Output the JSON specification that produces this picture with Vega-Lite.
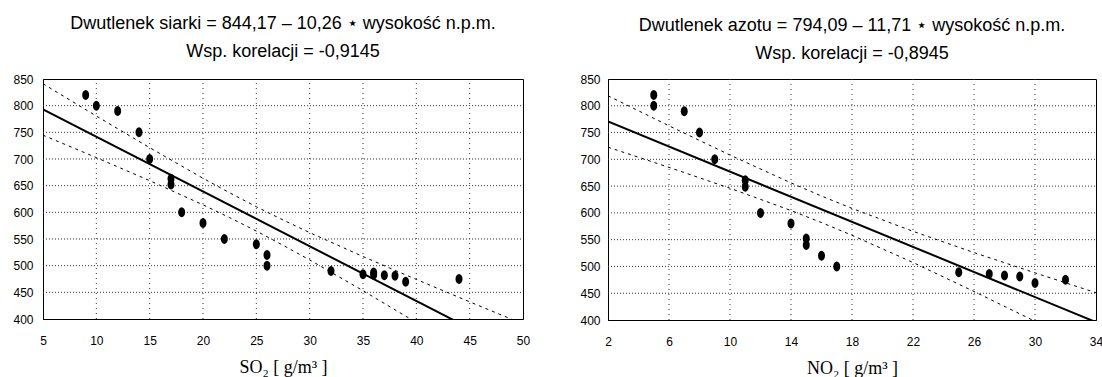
{
  "$schema": "https://vega.github.io/schema/vega-lite/v6.json",
  "background": "white",
  "padding": {"left": 12, "top": 14, "right": 0, "bottom": 0},
  "spacing": 48,
  "config": {
    "font": "Liberation Sans",
    "view": {"stroke": "black", "strokeWidth": 1},
    "axis": {
      "labelFont": "Liberation Sans", "labelFontSize": 12, "labelColor": "black",
      "domainColor": "black", "ticks": false, "grid": false, "labelOverlap": false, "labelFlush": false,
      "titleFont": "Liberation Serif", "titleFontSize": 18, "titleFontWeight": "normal", "titleColor": "black"
    },
    "axisY": {"tickCount": 10},
    "title": {"font": "Liberation Sans", "fontSize": 18, "fontWeight": "normal", "color": "black", "lineHeight": 28, "anchor": "middle"}
  },
  "datasets": {
    "so2_pts": [
      {"so2": 9, "alt": 820}, {"so2": 10, "alt": 800}, {"so2": 12, "alt": 790}, {"so2": 14, "alt": 750},
      {"so2": 15, "alt": 700}, {"so2": 17, "alt": 663}, {"so2": 17, "alt": 652}, {"so2": 18, "alt": 600},
      {"so2": 20, "alt": 580}, {"so2": 22, "alt": 550}, {"so2": 25, "alt": 540}, {"so2": 26, "alt": 520},
      {"so2": 26, "alt": 500}, {"so2": 32, "alt": 490}, {"so2": 35, "alt": 484}, {"so2": 36, "alt": 487},
      {"so2": 36, "alt": 483}, {"so2": 37, "alt": 482}, {"so2": 38, "alt": 481}, {"so2": 39, "alt": 470},
      {"so2": 44, "alt": 475}
    ],
    "so2_lines": [
      {"so2": 5, "alt": 792.9, "series": "reg"}, {"so2": 50, "alt": 331.2, "series": "reg"},
      {"so2": 5, "alt": 841.1, "series": "upper"}, {"so2": 10, "alt": 780.6, "series": "upper"},
      {"so2": 15, "alt": 721.2, "series": "upper"}, {"so2": 20, "alt": 663.9, "series": "upper"},
      {"so2": 22.5, "alt": 636.6, "series": "upper"}, {"so2": 25, "alt": 610.5, "series": "upper"},
      {"so2": 27.5, "alt": 585.7, "series": "upper"}, {"so2": 30, "alt": 562.0, "series": "upper"},
      {"so2": 35, "alt": 517.1, "series": "upper"}, {"so2": 40, "alt": 474.2, "series": "upper"},
      {"so2": 45, "alt": 432.2, "series": "upper"}, {"so2": 50, "alt": 390.7, "series": "upper"},
      {"so2": 5, "alt": 744.7, "series": "lower"}, {"so2": 10, "alt": 702.6, "series": "lower"},
      {"so2": 15, "alt": 659.4, "series": "lower"}, {"so2": 20, "alt": 614.1, "series": "lower"},
      {"so2": 22.5, "alt": 590.0, "series": "lower"}, {"so2": 25, "alt": 564.9, "series": "lower"},
      {"so2": 27.5, "alt": 538.3, "series": "lower"}, {"so2": 30, "alt": 510.8, "series": "lower"},
      {"so2": 35, "alt": 453.1, "series": "lower"}, {"so2": 40, "alt": 393.4, "series": "lower"},
      {"so2": 45, "alt": 332.8, "series": "lower"}, {"so2": 50, "alt": 271.7, "series": "lower"}
    ],
    "so2_vgrid": [
      {"so2": 10, "alt": 400, "g": "v10"}, {"so2": 10, "alt": 850, "g": "v10"},
      {"so2": 15, "alt": 400, "g": "v15"}, {"so2": 15, "alt": 850, "g": "v15"},
      {"so2": 20, "alt": 400, "g": "v20"}, {"so2": 20, "alt": 850, "g": "v20"},
      {"so2": 25, "alt": 400, "g": "v25"}, {"so2": 25, "alt": 850, "g": "v25"},
      {"so2": 30, "alt": 400, "g": "v30"}, {"so2": 30, "alt": 850, "g": "v30"},
      {"so2": 35, "alt": 400, "g": "v35"}, {"so2": 35, "alt": 850, "g": "v35"},
      {"so2": 40, "alt": 400, "g": "v40"}, {"so2": 40, "alt": 850, "g": "v40"},
      {"so2": 45, "alt": 400, "g": "v45"}, {"so2": 45, "alt": 850, "g": "v45"}
    ],
    "so2_hgrid": [
      {"so2": 5, "alt": 450, "g": "h450"}, {"so2": 50, "alt": 450, "g": "h450"},
      {"so2": 5, "alt": 500, "g": "h500"}, {"so2": 50, "alt": 500, "g": "h500"},
      {"so2": 5, "alt": 550, "g": "h550"}, {"so2": 50, "alt": 550, "g": "h550"},
      {"so2": 5, "alt": 600, "g": "h600"}, {"so2": 50, "alt": 600, "g": "h600"},
      {"so2": 5, "alt": 650, "g": "h650"}, {"so2": 50, "alt": 650, "g": "h650"},
      {"so2": 5, "alt": 700, "g": "h700"}, {"so2": 50, "alt": 700, "g": "h700"},
      {"so2": 5, "alt": 750, "g": "h750"}, {"so2": 50, "alt": 750, "g": "h750"},
      {"so2": 5, "alt": 800, "g": "h800"}, {"so2": 50, "alt": 800, "g": "h800"}
    ],
    "no2_vgrid": [
      {"no2": 6, "alt": 400, "g": "v6"}, {"no2": 6, "alt": 850, "g": "v6"},
      {"no2": 10, "alt": 400, "g": "v10"}, {"no2": 10, "alt": 850, "g": "v10"},
      {"no2": 14, "alt": 400, "g": "v14"}, {"no2": 14, "alt": 850, "g": "v14"},
      {"no2": 18, "alt": 400, "g": "v18"}, {"no2": 18, "alt": 850, "g": "v18"},
      {"no2": 22, "alt": 400, "g": "v22"}, {"no2": 22, "alt": 850, "g": "v22"},
      {"no2": 26, "alt": 400, "g": "v26"}, {"no2": 26, "alt": 850, "g": "v26"},
      {"no2": 30, "alt": 400, "g": "v30"}, {"no2": 30, "alt": 850, "g": "v30"}
    ],
    "no2_hgrid": [
      {"no2": 2, "alt": 450, "g": "h450"}, {"no2": 34, "alt": 450, "g": "h450"},
      {"no2": 2, "alt": 500, "g": "h500"}, {"no2": 34, "alt": 500, "g": "h500"},
      {"no2": 2, "alt": 550, "g": "h550"}, {"no2": 34, "alt": 550, "g": "h550"},
      {"no2": 2, "alt": 600, "g": "h600"}, {"no2": 34, "alt": 600, "g": "h600"},
      {"no2": 2, "alt": 650, "g": "h650"}, {"no2": 34, "alt": 650, "g": "h650"},
      {"no2": 2, "alt": 700, "g": "h700"}, {"no2": 34, "alt": 700, "g": "h700"},
      {"no2": 2, "alt": 750, "g": "h750"}, {"no2": 34, "alt": 750, "g": "h750"},
      {"no2": 2, "alt": 800, "g": "h800"}, {"no2": 34, "alt": 800, "g": "h800"}
    ],
    "no2_pts": [
      {"no2": 5, "alt": 820}, {"no2": 5, "alt": 800}, {"no2": 7, "alt": 790}, {"no2": 8, "alt": 750},
      {"no2": 9, "alt": 700}, {"no2": 11, "alt": 661}, {"no2": 11, "alt": 649}, {"no2": 12, "alt": 600},
      {"no2": 14, "alt": 580}, {"no2": 15, "alt": 552}, {"no2": 15, "alt": 540}, {"no2": 16, "alt": 520},
      {"no2": 17, "alt": 500}, {"no2": 25, "alt": 489}, {"no2": 27, "alt": 486}, {"no2": 28, "alt": 483},
      {"no2": 29, "alt": 481}, {"no2": 30, "alt": 469}, {"no2": 32, "alt": 475}
    ],
    "no2_lines": [
      {"no2": 2, "alt": 770.7, "series": "reg"}, {"no2": 34, "alt": 396.0, "series": "reg"},
      {"no2": 2, "alt": 818.7, "series": "upper"}, {"no2": 6, "alt": 762.6, "series": "upper"},
      {"no2": 10, "alt": 708.0, "series": "upper"}, {"no2": 14, "alt": 656.0, "series": "upper"},
      {"no2": 16, "alt": 631.5, "series": "upper"}, {"no2": 18, "alt": 608.4, "series": "upper"},
      {"no2": 22, "alt": 565.6, "series": "upper"}, {"no2": 26, "alt": 525.9, "series": "upper"},
      {"no2": 30, "alt": 488.0, "series": "upper"}, {"no2": 34, "alt": 450.9, "series": "upper"},
      {"no2": 2, "alt": 722.7, "series": "lower"}, {"no2": 6, "alt": 685.0, "series": "lower"},
      {"no2": 10, "alt": 646.0, "series": "lower"}, {"no2": 14, "alt": 604.4, "series": "lower"},
      {"no2": 16, "alt": 581.9, "series": "lower"}, {"no2": 18, "alt": 558.2, "series": "lower"},
      {"no2": 22, "alt": 507.4, "series": "lower"}, {"no2": 26, "alt": 453.3, "series": "lower"},
      {"no2": 30, "alt": 397.6, "series": "lower"}, {"no2": 34, "alt": 341.1, "series": "lower"}
    ]
  },
  "hconcat": [
    {
      "width": 480,
      "height": 240,
      "title": {"text": ["Dwutlenek siarki = 844,17 – 10,26 ⋆ wysokość n.p.m.", "Wsp. korelacji = -0,9145"], "offset": 12},
      "layer": [
        {
          "data": {"name": "so2_vgrid"},
          "mark": {"type": "line", "color": "#333", "strokeWidth": 1, "strokeDash": [1, 4]},
          "encoding": {
            "x": {"field": "so2", "type": "quantitative", "scale": {"domain": [5, 50], "nice": false},
                  "axis": {"values": [5, 10, 15, 20, 25, 30, 35, 40, 45, 50], "title": "SO₂  [   g/m³ ]     ", "labelPadding": 16, "titlePadding": 12}},
            "y": {"field": "alt", "type": "quantitative", "scale": {"domain": [400, 850], "nice": false},
                  "axis": {"values": [400, 450, 500, 550, 600, 650, 700, 750, 800, 850], "title": null, "labelPadding": 10}},
            "detail": {"field": "g"}
          }
        },
        {
          "data": {"name": "so2_hgrid"},
          "mark": {"type": "line", "color": "#333", "strokeWidth": 1, "strokeDash": [1, 2]},
          "encoding": {
            "x": {"field": "so2", "type": "quantitative", "scale": {"domain": [5, 50], "nice": false},
                  "axis": {"values": [5, 10, 15, 20, 25, 30, 35, 40, 45, 50], "title": "SO₂  [   g/m³ ]     ", "labelPadding": 16, "titlePadding": 12}},
            "y": {"field": "alt", "type": "quantitative", "scale": {"domain": [400, 850], "nice": false},
                  "axis": {"values": [400, 450, 500, 550, 600, 650, 700, 750, 800, 850], "title": null, "labelPadding": 10}},
            "detail": {"field": "g"}
          }
        },
        {
          "data": {"name": "so2_lines"},
          "transform": [{"filter": "datum.series !== 'reg'"}],
          "mark": {"type": "line", "color": "black", "strokeWidth": 1, "strokeDash": [3, 4], "clip": true},
          "encoding": {
            "x": {"field": "so2", "type": "quantitative", "scale": {"domain": [5, 50], "nice": false},
                  "axis": {"values": [5, 10, 15, 20, 25, 30, 35, 40, 45, 50], "title": "SO₂  [   g/m³ ]     ", "labelPadding": 16, "titlePadding": 12}},
            "y": {"field": "alt", "type": "quantitative", "scale": {"domain": [400, 850], "nice": false},
                  "axis": {"values": [400, 450, 500, 550, 600, 650, 700, 750, 800, 850], "title": null, "labelPadding": 10}},
            "detail": {"field": "series"}
          }
        },
        {
          "data": {"name": "so2_lines"},
          "transform": [{"filter": "datum.series === 'reg'"}],
          "mark": {"type": "line", "color": "black", "strokeWidth": 2, "clip": true},
          "encoding": {
            "x": {"field": "so2", "type": "quantitative", "scale": {"domain": [5, 50], "nice": false},
                  "axis": {"values": [5, 10, 15, 20, 25, 30, 35, 40, 45, 50], "title": "SO₂  [   g/m³ ]     ", "labelPadding": 16, "titlePadding": 12}},
            "y": {"field": "alt", "type": "quantitative", "scale": {"domain": [400, 850], "nice": false},
                  "axis": {"values": [400, 450, 500, 550, 600, 650, 700, 750, 800, 850], "title": null, "labelPadding": 10}}
          }
        },
        {
          "data": {"name": "so2_pts"},
          "mark": {"type": "point", "filled": true, "color": "black", "opacity": 1, "size": 100,
                   "shape": "M-0.7,0A0.7,1 0 1,0 0.7,0A0.7,1 0 1,0 -0.7,0Z"},
          "encoding": {
            "x": {"field": "so2", "type": "quantitative", "scale": {"domain": [5, 50], "nice": false},
                  "axis": {"values": [5, 10, 15, 20, 25, 30, 35, 40, 45, 50], "title": "SO₂  [   g/m³ ]     ", "labelPadding": 16, "titlePadding": 12}},
            "y": {"field": "alt", "type": "quantitative", "scale": {"domain": [400, 850], "nice": false},
                  "axis": {"values": [400, 450, 500, 550, 600, 650, 700, 750, 800, 850], "title": null, "labelPadding": 10}}
          }
        }
      ]
    },
    {
      "width": 488,
      "height": 241,
      "title": {"text": ["Dwutlenek azotu = 794,09 – 11,71 ⋆ wysokość n.p.m.", "Wsp. korelacji =  -0,8945"], "offset": 10},
      "layer": [
        {
          "data": {"name": "no2_vgrid"},
          "mark": {"type": "line", "color": "#333", "strokeWidth": 1, "strokeDash": [1, 4]},
          "encoding": {
            "x": {"field": "no2", "type": "quantitative", "scale": {"domain": [2, 34], "nice": false},
                  "axis": {"values": [2, 6, 10, 14, 18, 22, 26, 30, 34], "title": "NO₂  [   g/m³ ]        ", "labelPadding": 16, "titlePadding": 12}},
            "y": {"field": "alt", "type": "quantitative", "scale": {"domain": [400, 850], "nice": false},
                  "axis": {"values": [400, 450, 500, 550, 600, 650, 700, 750, 800, 850], "title": null, "labelPadding": 8}},
            "detail": {"field": "g"}
          }
        },
        {
          "data": {"name": "no2_hgrid"},
          "mark": {"type": "line", "color": "#333", "strokeWidth": 1, "strokeDash": [1, 2]},
          "encoding": {
            "x": {"field": "no2", "type": "quantitative", "scale": {"domain": [2, 34], "nice": false},
                  "axis": {"values": [2, 6, 10, 14, 18, 22, 26, 30, 34], "title": "NO₂  [   g/m³ ]        ", "labelPadding": 16, "titlePadding": 12}},
            "y": {"field": "alt", "type": "quantitative", "scale": {"domain": [400, 850], "nice": false},
                  "axis": {"values": [400, 450, 500, 550, 600, 650, 700, 750, 800, 850], "title": null, "labelPadding": 8}},
            "detail": {"field": "g"}
          }
        },
        {
          "data": {"name": "no2_lines"},
          "transform": [{"filter": "datum.series !== 'reg'"}],
          "mark": {"type": "line", "color": "black", "strokeWidth": 1, "strokeDash": [3, 4], "clip": true},
          "encoding": {
            "x": {"field": "no2", "type": "quantitative", "scale": {"domain": [2, 34], "nice": false},
                  "axis": {"values": [2, 6, 10, 14, 18, 22, 26, 30, 34], "title": "NO₂  [   g/m³ ]        ", "labelPadding": 16, "titlePadding": 12}},
            "y": {"field": "alt", "type": "quantitative", "scale": {"domain": [400, 850], "nice": false},
                  "axis": {"values": [400, 450, 500, 550, 600, 650, 700, 750, 800, 850], "title": null, "labelPadding": 8}},
            "detail": {"field": "series"}
          }
        },
        {
          "data": {"name": "no2_lines"},
          "transform": [{"filter": "datum.series === 'reg'"}],
          "mark": {"type": "line", "color": "black", "strokeWidth": 2, "clip": true},
          "encoding": {
            "x": {"field": "no2", "type": "quantitative", "scale": {"domain": [2, 34], "nice": false},
                  "axis": {"values": [2, 6, 10, 14, 18, 22, 26, 30, 34], "title": "NO₂  [   g/m³ ]        ", "labelPadding": 16, "titlePadding": 12}},
            "y": {"field": "alt", "type": "quantitative", "scale": {"domain": [400, 850], "nice": false},
                  "axis": {"values": [400, 450, 500, 550, 600, 650, 700, 750, 800, 850], "title": null, "labelPadding": 8}}
          }
        },
        {
          "data": {"name": "no2_pts"},
          "mark": {"type": "point", "filled": true, "color": "black", "opacity": 1, "size": 100,
                   "shape": "M-0.7,0A0.7,1 0 1,0 0.7,0A0.7,1 0 1,0 -0.7,0Z"},
          "encoding": {
            "x": {"field": "no2", "type": "quantitative", "scale": {"domain": [2, 34], "nice": false},
                  "axis": {"values": [2, 6, 10, 14, 18, 22, 26, 30, 34], "title": "NO₂  [   g/m³ ]        ", "labelPadding": 16, "titlePadding": 12}},
            "y": {"field": "alt", "type": "quantitative", "scale": {"domain": [400, 850], "nice": false},
                  "axis": {"values": [400, 450, 500, 550, 600, 650, 700, 750, 800, 850], "title": null, "labelPadding": 8}}
          }
        }
      ]
    }
  ]
}
